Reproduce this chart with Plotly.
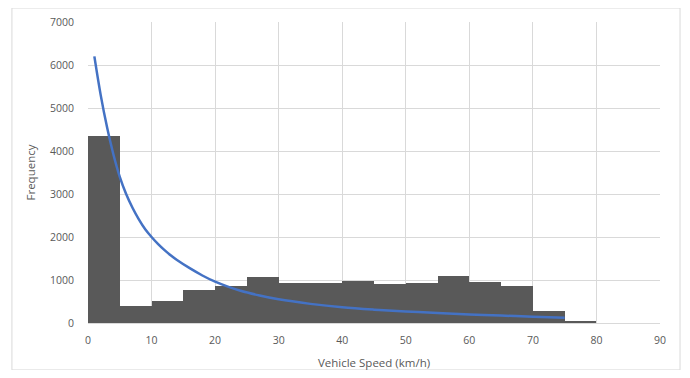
import plotly.graph_objects as go

bin_left = [0, 5, 10, 15, 20, 25, 30, 35, 40, 45, 50, 55, 60, 65, 70, 75]
bin_counts = [4340, 400, 510, 770, 870, 1080, 930, 935, 975, 915, 930, 1095, 945, 855, 275, 45]
bin_width = 5

curve_x = [1, 2, 3, 4, 5, 6, 7, 8, 9, 10, 11, 12, 13, 14, 16, 18, 20, 22, 24, 27, 30, 35, 40, 45, 50, 55, 60, 65, 70, 75]
curve_y = [6200, 5300, 4550, 3920, 3400, 3000, 2680, 2410, 2180, 2000, 1840, 1700, 1575, 1465, 1275, 1105, 960, 845, 750, 640, 550, 445, 365, 310, 268, 232, 200, 172, 147, 125]

x_ticks = [0, 10, 20, 30, 40, 50, 60, 70, 80, 90]
y_ticks = [0, 1000, 2000, 3000, 4000, 5000, 6000, 7000]

fig = go.Figure()
fig.add_trace(go.Bar(
    x=[b + bin_width / 2 for b in bin_left],
    y=bin_counts,
    width=[bin_width] * len(bin_left),
    marker=dict(color="#595959", line=dict(width=0)),
    showlegend=False,
))
fig.add_trace(go.Scatter(
    x=curve_x, y=curve_y, mode="lines",
    line=dict(color="#4472C4", width=2.5, shape="spline", smoothing=1.0),
    showlegend=False,
))

font_family = "Open Sans, sans-serif"
fig.update_layout(
    width=674, height=362,
    margin=dict(l=80, r=22, t=14, b=47),
    paper_bgcolor="white", plot_bgcolor="white",
    bargap=0,
    font=dict(family=font_family, size=11, color="#595959"),
    xaxis=dict(
        range=[0, 90], tickvals=x_ticks, ticktext=[str(v) for v in x_ticks],
        showgrid=True, gridcolor="#d9d9d9", gridwidth=1,
        showline=True, linecolor="#d9d9d9", zeroline=False,
        ticks="outside", ticklen=7, tickcolor="rgba(0,0,0,0)",
        automargin=False,
        title=dict(text="Vehicle Speed (km/h)", font=dict(size=11.5, color="#595959"), standoff=13),
        tickfont=dict(size=10.5, color="#595959"),
    ),
    yaxis=dict(
        range=[0, 7000], tickvals=y_ticks, ticktext=[str(v) for v in y_ticks],
        showgrid=True, gridcolor="#d9d9d9", gridwidth=1,
        zeroline=False, showline=False,
        ticks="outside", ticklen=11, tickcolor="rgba(0,0,0,0)",
        automargin=False,
        title=dict(text="Frequency", font=dict(size=11.5, color="#595959"), standoff=11),
        tickfont=dict(size=10.5, color="#595959"),
    ),
    shapes=[dict(
        type="rect", xref="paper", yref="paper",
        x0=-0.133, x1=1.035, y0=-0.156, y1=1.0465,
        line=dict(color="#d9d9d9", width=1), fillcolor="rgba(0,0,0,0)", layer="below",
    )],
)

fig.write_html("out.html")
